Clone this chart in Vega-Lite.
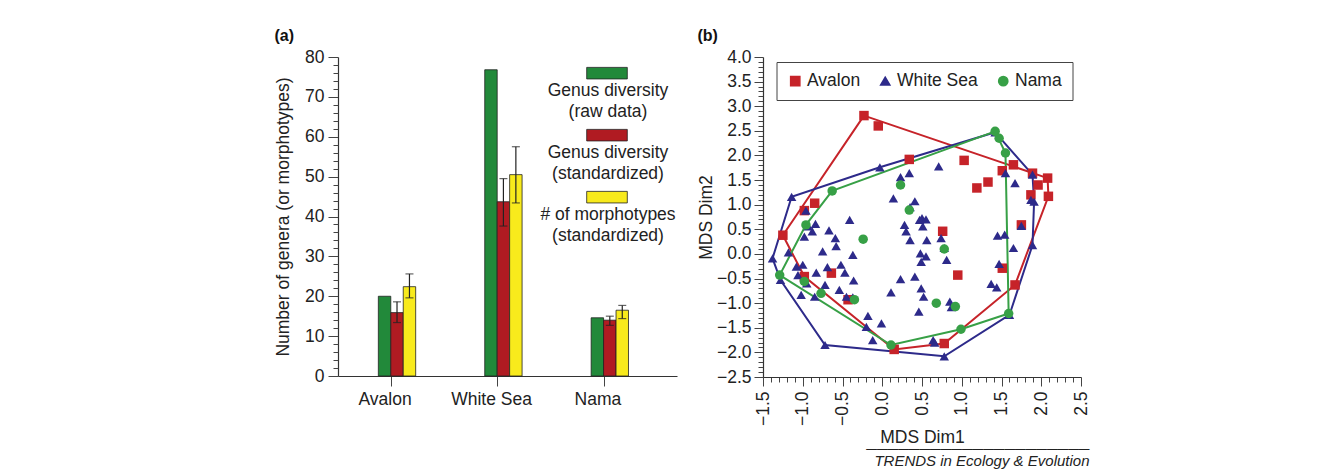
{
  "$schema": "https://vega.github.io/schema/vega-lite/v6.json",
  "padding": {"left": 274, "top": 28, "right": 5, "bottom": 5},
  "spacing": 20,
  "resolve": {"scale": {"color": "independent", "shape": "independent"}},
  "datasets": {
    "bars": [
      {"region": "Avalon", "measure": "Genus diversity (raw data)", "value": 20.0},
      {"region": "Avalon", "measure": "Genus diversity (standardized)", "value": 15.9, "lo": 13.4, "hi": 18.6},
      {"region": "Avalon", "measure": "# of morphotypes (standardized)", "value": 22.4, "lo": 19.6, "hi": 25.6},
      {"region": "White Sea", "measure": "Genus diversity (raw data)", "value": 76.8},
      {"region": "White Sea", "measure": "Genus diversity (standardized)", "value": 43.7, "lo": 37.6, "hi": 49.5},
      {"region": "White Sea", "measure": "# of morphotypes (standardized)", "value": 50.5, "lo": 43.4, "hi": 57.5},
      {"region": "Nama", "measure": "Genus diversity (raw data)", "value": 14.6},
      {"region": "Nama", "measure": "Genus diversity (standardized)", "value": 14.0, "lo": 12.7, "hi": 15.0},
      {"region": "Nama", "measure": "# of morphotypes (standardized)", "value": 16.5, "lo": 14.4, "hi": 17.7}
    ],
    "points": [
      {"group": "Avalon", "x": -0.23, "y": 2.81}, {"group": "Avalon", "x": -0.05, "y": 2.60}, {"group": "Avalon", "x": 0.34, "y": 1.92},
      {"group": "Avalon", "x": 1.03, "y": 1.90}, {"group": "Avalon", "x": 1.19, "y": 1.34}, {"group": "Avalon", "x": 1.33, "y": 1.46},
      {"group": "Avalon", "x": 1.51, "y": 1.69}, {"group": "Avalon", "x": 1.65, "y": 1.81}, {"group": "Avalon", "x": 1.89, "y": 1.64},
      {"group": "Avalon", "x": 2.08, "y": 1.54}, {"group": "Avalon", "x": 1.96, "y": 1.40}, {"group": "Avalon", "x": 2.09, "y": 1.17},
      {"group": "Avalon", "x": 1.87, "y": 1.20}, {"group": "Avalon", "x": 1.75, "y": 0.59}, {"group": "Avalon", "x": 0.76, "y": 0.46},
      {"group": "Avalon", "x": -0.85, "y": 1.03}, {"group": "Avalon", "x": -0.98, "y": 0.88}, {"group": "Avalon", "x": -1.25, "y": 0.38},
      {"group": "Avalon", "x": -0.64, "y": -0.39}, {"group": "Avalon", "x": -0.43, "y": -0.93}, {"group": "Avalon", "x": -0.98, "y": -0.46},
      {"group": "Avalon", "x": 0.15, "y": -1.94}, {"group": "Avalon", "x": 0.95, "y": -0.43}, {"group": "Avalon", "x": 1.51, "y": -0.29},
      {"group": "Avalon", "x": 1.67, "y": -0.63}, {"group": "Avalon", "x": 0.78, "y": -1.82},
      {"group": "White Sea", "x": 1.42, "y": 2.47}, {"group": "White Sea", "x": 1.89, "y": 1.61}, {"group": "White Sea", "x": 1.91, "y": 1.06},
      {"group": "White Sea", "x": 1.89, "y": 0.18}, {"group": "White Sea", "x": 1.60, "y": -1.24}, {"group": "White Sea", "x": 0.78, "y": -2.08},
      {"group": "White Sea", "x": -0.72, "y": -1.85}, {"group": "White Sea", "x": -1.28, "y": -0.53}, {"group": "White Sea", "x": -1.38, "y": -0.09},
      {"group": "White Sea", "x": -1.14, "y": 1.16}, {"group": "White Sea", "x": -0.03, "y": 1.76},
      {"group": "White Sea", "x": -0.96, "y": 0.88}, {"group": "White Sea", "x": -0.84, "y": 0.61}, {"group": "White Sea", "x": -0.93, "y": 0.56},
      {"group": "White Sea", "x": -0.98, "y": 0.35}, {"group": "White Sea", "x": -0.88, "y": 0.46}, {"group": "White Sea", "x": -0.67, "y": 0.48},
      {"group": "White Sea", "x": -0.59, "y": 0.32}, {"group": "White Sea", "x": -0.58, "y": 0.16}, {"group": "White Sea", "x": -0.41, "y": 0.69},
      {"group": "White Sea", "x": -1.18, "y": 0.03}, {"group": "White Sea", "x": -0.75, "y": 0.05}, {"group": "White Sea", "x": -0.37, "y": -0.02},
      {"group": "White Sea", "x": -1.08, "y": -0.26}, {"group": "White Sea", "x": -1.00, "y": -0.22}, {"group": "White Sea", "x": -1.06, "y": -0.43},
      {"group": "White Sea", "x": -0.95, "y": -0.60}, {"group": "White Sea", "x": -0.83, "y": -0.38}, {"group": "White Sea", "x": -1.02, "y": -0.83},
      {"group": "White Sea", "x": -0.85, "y": -0.87}, {"group": "White Sea", "x": -0.72, "y": -0.63}, {"group": "White Sea", "x": -0.69, "y": -0.27},
      {"group": "White Sea", "x": -0.52, "y": -0.22}, {"group": "White Sea", "x": -0.47, "y": -0.38}, {"group": "White Sea", "x": -0.36, "y": -0.54},
      {"group": "White Sea", "x": -0.54, "y": -0.73}, {"group": "White Sea", "x": -0.45, "y": -0.87}, {"group": "White Sea", "x": -0.37, "y": -0.88},
      {"group": "White Sea", "x": -0.18, "y": -1.26}, {"group": "White Sea", "x": -0.01, "y": -1.41}, {"group": "White Sea", "x": -0.12, "y": -1.75},
      {"group": "White Sea", "x": -0.20, "y": -1.48},
      {"group": "White Sea", "x": 0.23, "y": 1.56}, {"group": "White Sea", "x": 0.34, "y": 1.64}, {"group": "White Sea", "x": 0.14, "y": 1.13},
      {"group": "White Sea", "x": 0.41, "y": 1.07}, {"group": "White Sea", "x": 0.35, "y": 0.95}, {"group": "White Sea", "x": 0.28, "y": 0.59},
      {"group": "White Sea", "x": 0.30, "y": 0.46}, {"group": "White Sea", "x": 0.35, "y": 0.28}, {"group": "White Sea", "x": 0.50, "y": 0.73},
      {"group": "White Sea", "x": 0.51, "y": 0.56}, {"group": "White Sea", "x": 0.47, "y": 0.69}, {"group": "White Sea", "x": 0.55, "y": 0.70},
      {"group": "White Sea", "x": 0.56, "y": 0.28}, {"group": "White Sea", "x": 0.71, "y": 1.78}, {"group": "White Sea", "x": 0.78, "y": 0.12},
      {"group": "White Sea", "x": 0.74, "y": 0.32}, {"group": "White Sea", "x": 0.48, "y": 0.01}, {"group": "White Sea", "x": 0.55, "y": -0.05},
      {"group": "White Sea", "x": 0.49, "y": -0.16}, {"group": "White Sea", "x": 0.81, "y": -0.12}, {"group": "White Sea", "x": 0.23, "y": -0.51},
      {"group": "White Sea", "x": 0.41, "y": -0.46}, {"group": "White Sea", "x": 0.11, "y": -0.78}, {"group": "White Sea", "x": 0.49, "y": -0.70},
      {"group": "White Sea", "x": 0.52, "y": -0.87}, {"group": "White Sea", "x": 0.46, "y": -1.17}, {"group": "White Sea", "x": 0.85, "y": -0.97},
      {"group": "White Sea", "x": 0.87, "y": -1.08}, {"group": "White Sea", "x": 0.64, "y": -1.75}, {"group": "White Sea", "x": 0.66, "y": -1.80},
      {"group": "White Sea", "x": 1.55, "y": 1.64}, {"group": "White Sea", "x": 1.67, "y": 1.44}, {"group": "White Sea", "x": 1.87, "y": 1.10},
      {"group": "White Sea", "x": 1.45, "y": 0.37}, {"group": "White Sea", "x": 1.54, "y": 0.39}, {"group": "White Sea", "x": 1.75, "y": 0.57},
      {"group": "White Sea", "x": 1.65, "y": 0.12}, {"group": "White Sea", "x": 1.47, "y": -0.20}, {"group": "White Sea", "x": 1.37, "y": -0.61},
      {"group": "White Sea", "x": 1.44, "y": -0.68},
      {"group": "Nama", "x": 1.42, "y": 2.49}, {"group": "Nama", "x": 1.47, "y": 2.35}, {"group": "Nama", "x": 1.55, "y": 2.05},
      {"group": "Nama", "x": 1.59, "y": -1.21}, {"group": "Nama", "x": 0.99, "y": -1.53}, {"group": "Nama", "x": 0.11, "y": -1.85},
      {"group": "Nama", "x": -1.29, "y": -0.43}, {"group": "Nama", "x": -0.96, "y": 0.59}, {"group": "Nama", "x": -0.63, "y": 1.28},
      {"group": "Nama", "x": -0.24, "y": 0.30}, {"group": "Nama", "x": 0.23, "y": 1.40}, {"group": "Nama", "x": 0.34, "y": 0.89},
      {"group": "Nama", "x": 0.78, "y": 0.10}, {"group": "Nama", "x": -0.77, "y": -0.80}, {"group": "Nama", "x": -0.35, "y": -0.93},
      {"group": "Nama", "x": -0.98, "y": -0.56}, {"group": "Nama", "x": 0.68, "y": -1.00}, {"group": "Nama", "x": 0.92, "y": -1.07}
    ],
    "hulls": [
      {"group": "Avalon", "i": 0, "x": -0.23, "y": 2.81}, {"group": "Avalon", "i": 1, "x": 2.08, "y": 1.54},
      {"group": "Avalon", "i": 2, "x": 2.09, "y": 1.17}, {"group": "Avalon", "i": 3, "x": 1.67, "y": -0.63},
      {"group": "Avalon", "i": 4, "x": 0.78, "y": -1.82}, {"group": "Avalon", "i": 5, "x": 0.15, "y": -1.94},
      {"group": "Avalon", "i": 6, "x": -0.98, "y": -0.46}, {"group": "Avalon", "i": 7, "x": -1.25, "y": 0.38},
      {"group": "Avalon", "i": 8, "x": -0.23, "y": 2.81},
      {"group": "White Sea", "i": 0, "x": 1.42, "y": 2.47}, {"group": "White Sea", "i": 1, "x": 1.89, "y": 1.61},
      {"group": "White Sea", "i": 2, "x": 1.91, "y": 1.06}, {"group": "White Sea", "i": 3, "x": 1.89, "y": 0.18},
      {"group": "White Sea", "i": 4, "x": 1.60, "y": -1.24}, {"group": "White Sea", "i": 5, "x": 0.78, "y": -2.08},
      {"group": "White Sea", "i": 6, "x": -0.72, "y": -1.85}, {"group": "White Sea", "i": 7, "x": -1.28, "y": -0.53},
      {"group": "White Sea", "i": 8, "x": -1.38, "y": -0.09}, {"group": "White Sea", "i": 9, "x": -1.14, "y": 1.16},
      {"group": "White Sea", "i": 10, "x": -0.03, "y": 1.76}, {"group": "White Sea", "i": 11, "x": 1.42, "y": 2.47},
      {"group": "Nama", "i": 0, "x": 1.42, "y": 2.49}, {"group": "Nama", "i": 1, "x": 1.55, "y": 2.05},
      {"group": "Nama", "i": 2, "x": 1.59, "y": -1.21}, {"group": "Nama", "i": 3, "x": 0.99, "y": -1.53},
      {"group": "Nama", "i": 4, "x": 0.11, "y": -1.85}, {"group": "Nama", "i": 5, "x": -1.29, "y": -0.43},
      {"group": "Nama", "i": 6, "x": -0.96, "y": 0.59}, {"group": "Nama", "i": 7, "x": -0.63, "y": 1.28},
      {"group": "Nama", "i": 8, "x": 1.42, "y": 2.49}
    ]
  },
  "title": {
    "text": ["─────────────────────", "TRENDS in Ecology & Evolution"],
    "orient": "bottom", "anchor": "end", "fontSize": 15, "fontStyle": "italic", "fontWeight": "normal",
    "lineHeight": 12, "offset": -4, "color": "#222", "font": "Liberation Sans"
  },
  "hconcat": [
    {
      "width": 339, "height": 319,
      "title": {"text": "(a)", "anchor": "start", "frame": "bounds", "fontSize": 16, "fontWeight": "bold", "offset": 4, "color": "#111"},
      "data": {"name": "bars"},
      "resolve": {"axis": {"y": "independent"}},
      "layer": [
        {
          "mark": {"type": "bar", "stroke": "#222", "strokeWidth": 0.8},
          "encoding": {
            "x": {"field": "region", "type": "nominal", "sort": ["Avalon", "White Sea", "Nama"],
                  "scale": {"paddingInner": 0.649, "paddingOuter": 0.4175, "align": 0.454},
                  "axis": {"title": null, "labelAngle": 0, "bandPosition": 0.5, "tickOffset": -6.2, "labelOffset": -6.2, "tickSize": 10, "labelPadding": 4}},
            "xOffset": {"field": "measure", "type": "nominal",
                        "sort": ["Genus diversity (raw data)", "Genus diversity (standardized)", "# of morphotypes (standardized)"],
                        "scale": {"paddingInner": 0, "paddingOuter": 0}},
            "y": {"field": "value", "type": "quantitative", "scale": {"domain": [0, 80], "nice": false},
                  "axis": {"title": "Number of genera (or morphotypes)", "values": [0, 10, 20, 30, 40, 50, 60, 70, 80], "tickSize": 10, "labelPadding": 4, "titlePadding": 12}},
            "color": {"field": "measure", "type": "nominal",
                      "scale": {"domain": ["Genus diversity (raw data)", "Genus diversity (standardized)", "# of morphotypes (standardized)"],
                                "range": ["#22893a", "#b01b22", "#f8ea1c"]},
                      "legend": {"orient": "none", "legendX": 248, "legendY": 4, "direction": "vertical", "title": null,
                                 "symbolType": "M-1,-0.72H1V-0.15H-1Z", "symbolSize": 1650,
                                 "symbolStrokeColor": "#222", "symbolStrokeWidth": 0.8,
                                 "labelAlign": "center", "labelBaseline": "top", "labelOffset": -20,
                                 "labelFontSize": 17.5, "labelColor": "#222", "labelLimit": 300, "rowPadding": 2, "padding": 0,
                                 "labelExpr": "split(replace(datum.label, ' (', '|('), '|')",
                                 "encode": {"labels": {"update": {"lineHeight": {"value": 21}}}}}}
          }
        },
        {
          "transform": [{"filter": "isValid(datum.lo)"}],
          "mark": {"type": "rule", "color": "#222", "strokeWidth": 1.2},
          "encoding": {
            "x": {"field": "region", "type": "nominal", "sort": ["Avalon", "White Sea", "Nama"]},
            "xOffset": {"field": "measure", "type": "nominal",
                        "sort": ["Genus diversity (raw data)", "Genus diversity (standardized)", "# of morphotypes (standardized)"]},
            "y": {"field": "lo", "type": "quantitative",
                  "axis": {"orient": "left", "title": null, "labels": false, "domain": false, "tickSize": 5,
                           "values": [2, 4, 6, 8, 12, 14, 16, 18, 22, 24, 26, 28, 32, 34, 36, 38, 42, 44, 46, 48, 52, 54, 56, 58, 62, 64, 66, 68, 72, 74, 76, 78]}},
            "y2": {"field": "hi"}
          }
        },
        {
          "transform": [{"filter": "isValid(datum.lo)"}],
          "mark": {"type": "tick", "color": "#222", "thickness": 1.2, "size": 8},
          "encoding": {
            "x": {"field": "region", "type": "nominal", "sort": ["Avalon", "White Sea", "Nama"]},
            "xOffset": {"field": "measure", "type": "nominal",
                        "sort": ["Genus diversity (raw data)", "Genus diversity (standardized)", "# of morphotypes (standardized)"]},
            "y": {"field": "lo", "type": "quantitative", "axis": null}
          }
        },
        {
          "transform": [{"filter": "isValid(datum.hi)"}],
          "mark": {"type": "tick", "color": "#222", "thickness": 1.2, "size": 8},
          "encoding": {
            "x": {"field": "region", "type": "nominal", "sort": ["Avalon", "White Sea", "Nama"]},
            "xOffset": {"field": "measure", "type": "nominal",
                        "sort": ["Genus diversity (raw data)", "Genus diversity (standardized)", "# of morphotypes (standardized)"]},
            "y": {"field": "hi", "type": "quantitative", "axis": null}
          }
        }
      ]
    },
    {
      "width": 318, "height": 320,
      "title": {"text": "(b)", "anchor": "start", "frame": "bounds", "fontSize": 16, "fontWeight": "bold", "offset": 4, "color": "#111"},
      "resolve": {"axis": {"x": "independent", "y": "independent"}},
      "layer": [
        {
          "mark": {"type": "rule", "color": "#555", "strokeWidth": 1.2},
          "encoding": {
            "x": {"datum": 0, "type": "quantitative", "scale": {"domain": [-1.5, 2.5], "nice": false, "zero": false},
                  "axis": {"orient": "bottom", "title": null, "labels": false, "domain": false, "tickSize": 5,
                           "values": [-1.4, -1.3, -1.2, -1.1, -0.9, -0.8, -0.7, -0.6, -0.4, -0.3, -0.2, -0.1, 0.1, 0.2, 0.3, 0.4, 0.6, 0.7, 0.8, 0.9, 1.1, 1.2, 1.3, 1.4, 1.6, 1.7, 1.8, 1.9, 2.1, 2.2, 2.3, 2.4]}}
          }
        },
        {
          "mark": {"type": "rule", "color": "#555", "strokeWidth": 1.2},
          "encoding": {
            "y": {"datum": 0, "type": "quantitative", "scale": {"domain": [-2.5, 4.0], "nice": false, "zero": false},
                  "axis": {"orient": "left", "title": null, "labels": false, "domain": false, "tickSize": 5,
                           "values": [-2.4, -2.3, -2.2, -2.1, -1.9, -1.8, -1.7, -1.6, -1.4, -1.3, -1.2, -1.1, -0.9, -0.8, -0.7, -0.6, -0.4, -0.3, -0.2, -0.1, 0.1, 0.2, 0.3, 0.4, 0.6, 0.7, 0.8, 0.9, 1.1, 1.2, 1.3, 1.4, 1.6, 1.7, 1.8, 1.9, 2.1, 2.2, 2.3, 2.4, 2.6, 2.7, 2.8, 2.9, 3.1, 3.2, 3.3, 3.4, 3.6, 3.7, 3.8, 3.9]}}
          }
        },
        {
          "data": {"name": "hulls"},
          "mark": {"type": "line", "strokeWidth": 2},
          "encoding": {
            "x": {"field": "x", "type": "quantitative",
                  "axis": {"orient": "bottom", "title": "MDS Dim1", "values": [-1.5, -1, -0.5, 0, 0.5, 1, 1.5, 2, 2.5], "format": ".1f",
                           "labelAngle": 270, "tickSize": 9, "labelPadding": 5, "titlePadding": 3}},
            "y": {"field": "y", "type": "quantitative",
                  "axis": {"orient": "left", "title": "MDS Dim2", "values": [-2.5, -2, -1.5, -1, -0.5, 0, 0.5, 1, 1.5, 2, 2.5, 3, 3.5, 4], "format": ".1f",
                           "tickSize": 9, "labelPadding": 3, "titlePadding": 1}},
            "color": {"field": "group", "type": "nominal"},
            "order": {"field": "i", "type": "quantitative"}
          }
        },
        {
          "data": {"name": "points"},
          "mark": {"type": "point", "filled": true, "opacity": 1, "size": 90},
          "encoding": {
            "x": {"field": "x", "type": "quantitative", "axis": null},
            "y": {"field": "y", "type": "quantitative", "axis": null},
            "color": {"field": "group", "type": "nominal",
                      "scale": {"domain": ["Avalon", "White Sea", "Nama"], "range": ["#c62329", "#2d2a8a", "#37a046"]},
                      "legend": {"orient": "none", "legendX": 13.5, "legendY": 5, "direction": "horizontal", "title": null,
                                 "fillColor": "white", "strokeColor": "#444", "padding": 10, "columnPadding": 16,
                                 "labelFontSize": 17.5, "labelColor": "#222", "symbolSize": 85, "labelOffset": 3}},
            "shape": {"field": "group", "type": "nominal",
                      "scale": {"domain": ["Avalon", "White Sea", "Nama"], "range": ["square", "triangle-up", "circle"]},
                      "legend": {"orient": "none", "legendX": 13.5, "legendY": 5, "direction": "horizontal", "title": null,
                                 "fillColor": "white", "strokeColor": "#444", "padding": 10, "columnPadding": 16,
                                 "labelFontSize": 17.5, "labelColor": "#222", "symbolSize": 85, "labelOffset": 3}}
          }
        }
      ]
    }
  ],
  "config": {
    "font": "Liberation Sans",
    "view": {"stroke": null},
    "axis": {"labelFontSize": 17.5, "titleFontSize": 17.5, "titleFontWeight": "normal", "labelColor": "#222", "titleColor": "#222",
             "domainColor": "#333", "tickColor": "#444", "domainWidth": 1.2, "tickWidth": 1, "grid": false},
    "legend": {"labelFont": "Liberation Sans"}
  }
}
